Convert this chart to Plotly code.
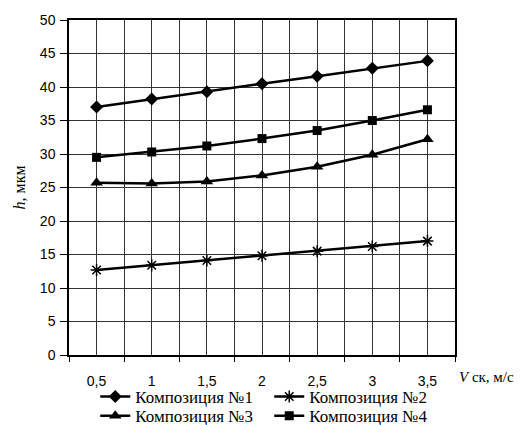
import plotly.graph_objects as go

x_vals = [0.5, 1.0, 1.5, 2.0, 2.5, 3.0, 3.5]
x_labels = ["0,5", "1", "1,5", "2", "2,5", "3", "3,5"]
comp1 = [37.0, 38.2, 39.3, 40.5, 41.6, 42.8, 43.9]
comp2 = [12.7, 13.4, 14.1, 14.8, 15.5, 16.2, 17.0]
comp3 = [25.7, 25.6, 25.9, 26.8, 28.1, 29.9, 32.2]
comp4 = [29.5, 30.3, 31.2, 32.3, 33.5, 35.0, 36.6]
names = ["Композиция №1", "Композиция №2", "Композиция №3", "Композиция №4"]
y_ticks = [0, 5, 10, 15, 20, 25, 30, 35, 40, 45, 50]

series = [
    (comp1, names[0], dict(symbol="diamond", size=10, color="black"), "legend"),
    (comp2, names[1], dict(symbol="asterisk-open", size=10, color="black", line=dict(width=1.5, color="black")), "legend"),
    (comp3, names[2], dict(symbol="triangle-up", size=11, color="black"), "legend2"),
    (comp4, names[3], dict(symbol="square", size=9, color="black"), "legend2"),
]

fig = go.Figure()
for ys, nm, mk, lg in series:
    fig.add_trace(go.Scatter(x=x_vals, y=ys, name=nm, mode="lines+markers",
                             line=dict(color="black", width=2.5), marker=mk, legend=lg))

legend_common = dict(orientation="h", xanchor="left", yanchor="middle",
                     font=dict(family="Liberation Serif", size=17, color="black"),
                     entrywidth=129, entrywidthmode="pixels",
                     bgcolor="rgba(0,0,0,0)", borderwidth=0)

fig.update_layout(
    width=523, height=425,
    margin=dict(l=69, r=68, t=20, b=70, autoexpand=False),
    paper_bgcolor="white", plot_bgcolor="white",
    showlegend=True,
    legend=dict(x=0.068, y=-0.125, **legend_common),
    legend2=dict(x=0.068, y=-0.183, **legend_common),
    font=dict(family="Liberation Sans", size=14, color="black"),
)
fig.update_xaxes(range=[0.25, 3.75], tickvals=x_vals, ticktext=x_labels, ticks="",
                 ticklabelstandoff=12,
                 showgrid=True, gridcolor="#333333", gridwidth=1,
                 showline=True, linecolor="black", linewidth=1.5, mirror=True,
                 zeroline=False,
                 minor=dict(tick0=0.25, dtick=0.5, ticks="outside", ticklen=5,
                            tickcolor="black", showgrid=True, gridcolor="#333333", gridwidth=1),
                 tickfont=dict(family="Liberation Sans", size=14, color="black"))
fig.update_yaxes(range=[0, 50], tickvals=y_ticks, ticks="outside", ticklen=7, tickcolor="black",
                 ticklabelstandoff=2,
                 showgrid=True, gridcolor="#333333", gridwidth=1,
                 showline=True, linecolor="black", linewidth=1.5, mirror=True,
                 zeroline=False,
                 tickfont=dict(family="Liberation Sans", size=14, color="black"))

fig.add_annotation(text="<i>h</i>, мкм", xref="paper", yref="paper", x=-0.127, y=0.5,
                   xanchor="center", yanchor="middle",
                   textangle=-90, showarrow=False,
                   font=dict(family="Liberation Serif", size=16, color="black"))
fig.add_annotation(text="<i>V</i> ск, м/с", xref="paper", yref="paper", x=1.006, y=-0.066,
                   xanchor="left", yanchor="middle", showarrow=False,
                   font=dict(family="Liberation Serif", size=15, color="black"))

fig.write_html("out.html", config={"displayModeBar": False},
               post_script="document.body.style.margin='0';")
